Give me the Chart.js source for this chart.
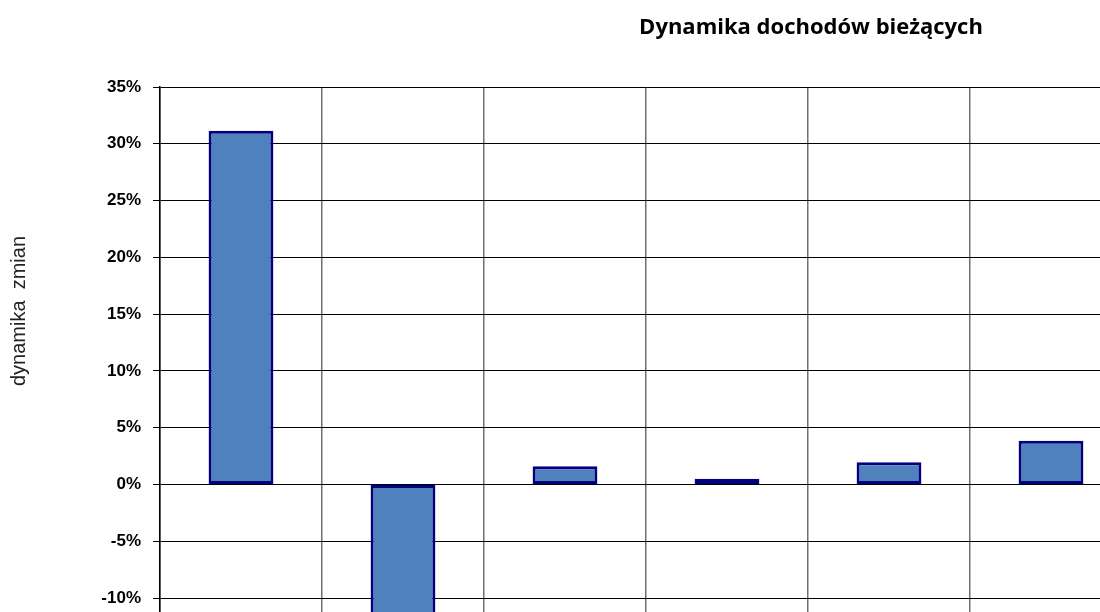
<!DOCTYPE html>
<html>
<head>
<meta charset="utf-8">
<script src="https://cdn.jsdelivr.net/npm/chart.js@4"></script>
<style>
  html, body { margin: 0; padding: 0; background: #fff; overflow: hidden; }
  #wrap { position: absolute; left: 0; top: 0; width: 1132px; height: 677px; }
</style>
</head>
<body>
<div id="wrap"><canvas id="chart"></canvas></div>
<script>
const categories = ['1', '2', '3', '4', '5', '6'];
const dynamika = [31.15, -12.5, 1.6, 0.5, 1.95, 3.85];
const yTicks = [-15, -10, -5, 0, 5, 10, 15, 20, 25, 30, 35];
const chartTitle = 'Dynamika dochodów bieżących';
const yTitle = 'dynamika  zmian';

// titles drawn by hand, both sit off-centre in the original
const titlePlugin = {
    id: 'offTitles',
    afterDraw(chart) {
        const ctx = chart.ctx;
        ctx.save();
        ctx.font = 'bold 22px "Open Sans"';
        ctx.fillStyle = '#000';
        ctx.textAlign = 'center';
        ctx.textBaseline = 'alphabetic';
        ctx.fillText(chartTitle, 811, 34);

        ctx.translate(19, 311);
        ctx.rotate(-Math.PI / 2);
        ctx.font = '20px "Liberation Sans", Arial';
        ctx.fillStyle = '#222';
        ctx.textBaseline = 'middle';
        ctx.fillText(yTitle, 0, 0);
        ctx.restore();
    }
};

const ctx = document.getElementById('chart').getContext('2d');
new Chart(ctx, {
    type: 'bar',
    data: {
        labels: categories,
        datasets: [{
            label: 'dynamika',
            data: dynamika,
            backgroundColor: '#4F81BD',
            borderColor: '#000080',
            borderWidth: 3,
            borderSkipped: false,
            categoryPercentage: 1,
            barPercentage: 0.4
        }]
    },
    options: {
        responsive: true,
        maintainAspectRatio: false,
        animation: false,
        layout: { padding: { top: 87, left: 0, right: 0, bottom: 0 } },
        plugins: {
            legend: { display: false },
            tooltip: { enabled: false },
            title: { display: false }
        },
        scales: {
            x: {
                ticks: { display: false },
                grid: { color: '#707070', lineWidth: 1.5, drawTicks: false },
                border: { color: '#000', width: 1 }
            },
            y: {
                min: -15,
                max: 35,
                afterBuildTicks(scale) {
                    scale.ticks = yTicks.map(v => ({ value: v }));
                },
                afterFit(scale) { scale.width = 160; },
                ticks: {
                    padding: 12,
                    color: '#000',
                    font: { family: '"Liberation Sans", Arial', size: 17, weight: 'bold' },
                    callback: v => v + '%'
                },
                grid: { color: '#000', lineWidth: 1, tickLength: 7 },
                border: { color: '#000', width: 1.5 }
            }
        }
    },
    plugins: [titlePlugin]
});
</script>
</body>
</html>
